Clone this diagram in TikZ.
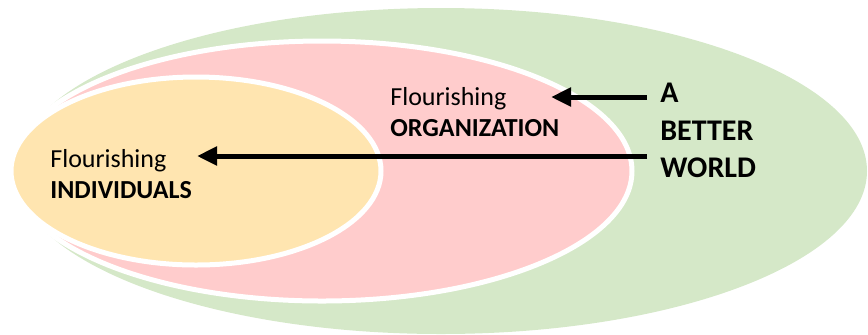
\documentclass[tikz,border=0pt]{standalone}
\usepackage{fontspec}
\setmainfont{Carlito}
\usepackage{tikz}
\usetikzlibrary{calc,positioning,arrows.meta}
\definecolor{worldgreen}{HTML}{D5E8C8}
\definecolor{orgpink}{HTML}{FFCCCC}
\definecolor{indyellow}{HTML}{FFE5B0}
\tikzset{
  ring/.style={draw=white,line width=2.5pt},
  lbl/.style={inner sep=0pt,align=left,anchor=north west,font=\fontsize{13}{15.5}\selectfont},
  bigtxt/.style={inner sep=0pt,align=left,anchor=north west,font=\fontsize{15}{18.75}\selectfont\bfseries},
  push/.style={line width=2.5pt,-{Triangle[length=10pt,width=9pt]}}
}

\begin{document}
\begin{tikzpicture}[x=0.5pt,y=-0.5pt]

\useasboundingbox (0,0) rectangle (868,334);

% the three nested fields
\fill[worldgreen] (441,171) ellipse [x radius=426, y radius=163];
\filldraw[fill=orgpink,ring] (322,171) ellipse [x radius=310, y radius=130];
\filldraw[fill=indyellow,ring] (196,171) ellipse [x radius=185, y radius=94];

% labels
\node[lbl] (ind) at (50,149) {Flourishing\\\textbf{INDIVIDUALS}};
\node[lbl] (org) at (390,87) {Flourishing\\\textbf{ORGANIZATION}};
\node[bigtxt] (world) at (660,83) {A\\BETTER\\WORLD};

\coordinate (orgtip) at (551,97);
\coordinate (indtip) at (197,156);
\coordinate (wtop) at (647,97);
\coordinate (wlow) at (647,156);

\draw[push] (wtop) -- (orgtip);
\draw[push] (wlow) -- (indtip);

\end{tikzpicture}
\end{document}
